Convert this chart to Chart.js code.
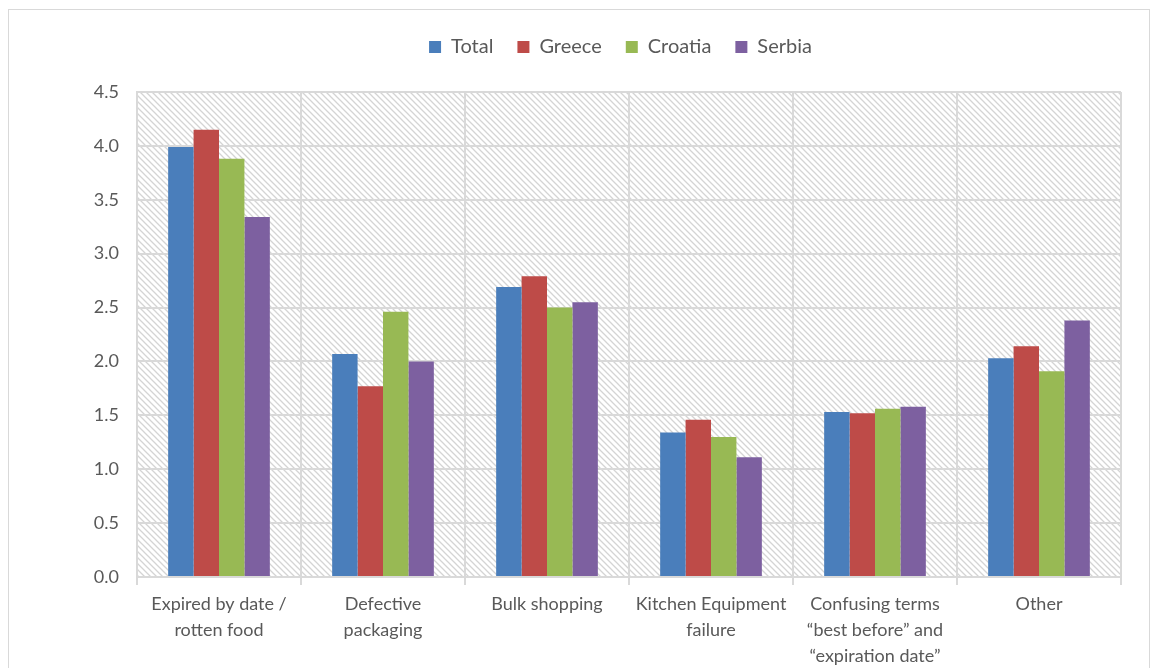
<!DOCTYPE html>
<html><head><meta charset="utf-8">
<script src="https://cdn.jsdelivr.net/npm/chart.js@4.4.1/dist/chart.umd.min.js"></script>
<style>html,body{margin:0;padding:0;background:#fff}#wrap{width:1155px;height:668px;position:relative}</style>
</head><body><div id="wrap"><canvas id="c" width="1155" height="668"></canvas></div>
<script>
const categories = [["Expired by date /","rotten food"],["Defective","packaging"],"Bulk shopping",["Kitchen Equipment","failure"],["Confusing terms","\u201cbest before\u201d and","\u201cexpiration date\u201d"],"Other"];
const total   = [3.99, 2.07, 2.69, 1.34, 1.53, 2.03];
const greece  = [4.15, 1.77, 2.79, 1.46, 1.52, 2.14];
const croatia = [3.88, 2.46, 2.50, 1.30, 1.56, 1.91];
const serbia  = [3.34, 2.00, 2.55, 1.11, 1.58, 2.38];
const seriesNames = ["Total","Greece","Croatia","Serbia"];
const colors = ["#4a7ebb","#be4b48","#98b954","#7d60a0"];

function makePattern(ctx){
  const p = document.createElement('canvas'); p.width=6; p.height=6;
  const g = p.getContext('2d');
  g.fillStyle='#ffffff'; g.fillRect(0,0,6,6);
  g.strokeStyle='#d4d4d4'; g.lineWidth=1.3;
  g.beginPath();
  g.moveTo(-1,-1); g.lineTo(7,7);
  g.moveTo(-1,5); g.lineTo(1,7);
  g.moveTo(5,-1); g.lineTo(7,1);
  g.stroke();
  return ctx.createPattern(p,'repeat');
}
const bgPlugin = {
  id:'bg',
  afterInit(chart){
    const lg = chart.legend;
    if (lg) { const orig = lg.fit; lg.fit = function(){ orig.call(this); this.height += 25; }; }
  },
  afterLayout(chart){
    if (chart.legend) chart.legend.left += 100;
  },
  beforeDraw(chart){
    const {ctx, chartArea:a} = chart;
    ctx.save();
    ctx.fillStyle = makePattern(ctx);
    ctx.fillRect(a.left, a.top, a.right-a.left, a.bottom-a.top);
    ctx.strokeStyle='#d9d9d9'; ctx.lineWidth=1;
    ctx.strokeRect(8.5, 9.5, 1141, 700);
    ctx.restore();
  }
};
const datasets = [total,greece,croatia,serbia].map((d,i)=>({
  label: seriesNames[i], data: d, backgroundColor: colors[i],
  borderColor: colors[i], borderWidth: 0,
  categoryPercentage: 0.62, barPercentage: 1.0
}));
Chart.defaults.font.family = "Lato, 'Open Sans', sans-serif";
Chart.defaults.color = '#595959';
new Chart(document.getElementById('c'), {
  type:'bar',
  data:{ labels: categories, datasets },
  options:{
    responsive:false, animation:false, devicePixelRatio:1,
    layout:{ padding:{ left:20, right:34, top:13, bottom:0 } },
    plugins:{
      legend:{ position:'top', labels:{ boxWidth:12, boxHeight:12, font:{size:20}, padding:24, color:'#595959' } },
      tooltip:{ enabled:false }
    },
    scales:{
      x:{
        grid:{ offset:true, color:'#d9d9d9', lineWidth:2, tickLength:8, drawTicks:true },
        border:{ color:'#d9d9d9', width:2 },
        ticks:{ font:{size:18, lineHeight:1.45}, color:'#595959', maxRotation:0, autoSkip:false, padding:6 },
        afterFit(s){ s.height = 91; }
      },
      y:{
        min:0, max:4.5,
        ticks:{ stepSize:0.5, font:{size:18}, color:'#595959', padding:18, callback:v=>v.toFixed(1) },
        grid:{ color:'#d9d9d9', lineWidth:2, drawTicks:false },
        border:{ color:'#d9d9d9', width:2 },
        afterFit(s){ s.width = 117; }
      }
    }
  },
  plugins:[bgPlugin]
});
</script></body></html>
